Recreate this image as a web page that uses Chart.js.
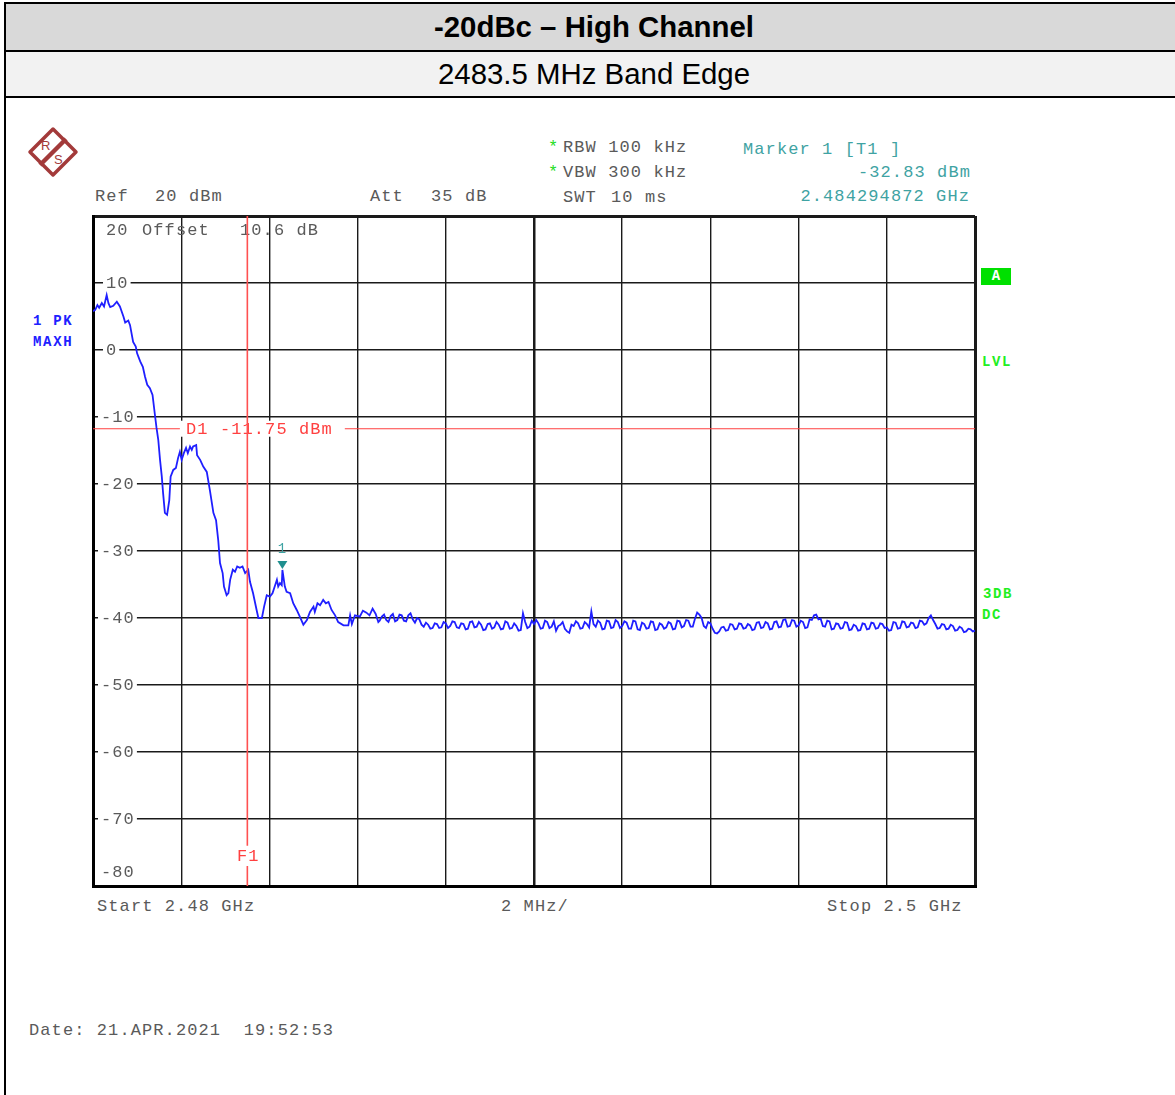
<!DOCTYPE html>
<html>
<head>
<meta charset="utf-8">
<script src="https://cdn.jsdelivr.net/npm/chart.js@4.4.0/dist/chart.umd.min.js"></script>
<style>
  body { margin: 0; background: #fff; width: 1175px; height: 1095px; overflow: hidden; position: relative; }
  .frame { position: absolute; left: 4px; top: 2px; width: 1200px; height: 1200px; border-left: 2px solid #000; border-top: 2px solid #000; }
  .row { position: absolute; left: 0; width: 1176px; text-align: center; font-family: "Liberation Sans", Arial, sans-serif; color: #000; border-bottom: 2px solid #000; border-right: 2px solid #000; }
  .row1 { top: 0; height: 46px; line-height: 46px; background: #d9d9d9; font-weight: bold; font-size: 29.4px; }
  .row2 { top: 48px; height: 44px; line-height: 44px; background: #f2f2f2; font-size: 29.4px; }
  .t { position: absolute; font-family: "Liberation Mono", monospace; font-size: 17px; line-height: 20px; letter-spacing: 1.1px; color: #5a5a5a; white-space: pre; }
  .teal { color: #3fa3a3; }
  .green { color: #22dd22; }
  .blue { color: #2020ff; font-weight: bold; font-size: 14px; letter-spacing: 1.7px; }
  .side { color: #22ee22; font-weight: bold; font-size: 14px; letter-spacing: 1.6px; }
  #wrap { position: absolute; left: 0; top: 0; width: 1175px; height: 1095px; }
</style>
</head>
<body>
<div class="frame">
  <div class="row row1">-20dBc – High Channel</div>
  <div class="row row2">2483.5 MHz Band Edge</div>
</div>

<svg style="position:absolute;left:27px;top:126px" width="52" height="52" viewBox="0 0 52 52">
  <path d="M26 3 L49 26 L26 49 L3 26 Z" fill="none" stroke="#a33a3a" stroke-width="3.5" stroke-linejoin="round"/>
  <path d="M13 39 L39 13" stroke="#a33a3a" stroke-width="4.5"/>
  <text x="14" y="24" font-family="Liberation Sans" font-size="13" fill="#a33a3a">R</text>
  <text x="27" y="38" font-family="Liberation Sans" font-size="13" fill="#a33a3a">S</text>
</svg>

<div class="t green" style="left:548px;top:138px">*</div>
<div class="t" style="left:563px;top:138px">RBW 100 kHz</div>
<div class="t green" style="left:548px;top:163px">*</div>
<div class="t" style="left:563px;top:163px">VBW 300 kHz</div>
<div class="t" style="left:563px;top:188px">SWT</div>
<div class="t" style="left:611px;top:188px">10 ms</div>
<div class="t teal" style="left:743px;top:140px">Marker 1 [T1 ]</div>
<div class="t teal" style="right:204px;top:163px">-32.83 dBm</div>
<div class="t teal" style="right:205px;top:187px">2.484294872 GHz</div>
<div class="t" style="left:95px;top:187px">Ref</div>
<div class="t" style="left:155px;top:187px">20 dBm</div>
<div class="t" style="left:370px;top:187px">Att</div>
<div class="t" style="left:431px;top:187px">35 dB</div>

<div class="t blue" style="left:33px;top:311px">1 PK</div>
<div class="t blue" style="left:33px;top:332px">MAXH</div>

<div style="position:absolute;left:981px;top:268px;width:30px;height:17px;background:#00e000;color:#fff;font:bold 14px 'Liberation Mono',monospace;text-align:center;line-height:17px">A</div>
<div class="t side" style="left:982px;top:352px">LVL</div>
<div class="t side" style="left:983px;top:584px">3DB</div>
<div class="t side" style="left:982px;top:605px">DC</div>

<div class="t" style="left:97px;top:897px">Start 2.48 GHz</div>
<div class="t" style="left:501px;top:897px">2 MHz/</div>
<div class="t" style="left:827px;top:897px">Stop 2.5 GHz</div>
<div class="t" style="left:29px;top:1021px">Date: 21.APR.2021  19:52:53</div>

<div id="wrap"><canvas id="chart" width="1175" height="1095"></canvas></div>

<script>
// sweep: 2.48 GHz .. 2.5 GHz, 2 MHz/div, ref 20 dBm, 10 dB/div
const startMHz = 2480;
const stopMHz = 2500;
const refLevel = 20;
const bottomLevel = -80;
const yTickValues = [10, 0, -10, -20, -30, -40, -50, -60, -70];

// band edge roll-off (MHz, dBm)
const edgeFreq = [
  2480.00, 2480.05, 2480.10, 2480.14, 2480.20, 2480.25, 2480.31, 2480.35, 2480.39, 2480.46,
  2480.54, 2480.61, 2480.69, 2480.73, 2480.80, 2480.84, 2480.91, 2480.97, 2481.00, 2481.07,
  2481.13, 2481.18, 2481.23, 2481.29, 2481.35, 2481.41, 2481.44, 2481.48, 2481.52, 2481.56,
  2481.59, 2481.63, 2481.68, 2481.73, 2481.76, 2481.82, 2481.88, 2481.93, 2481.97, 2482.01,
  2482.06, 2482.11, 2482.15, 2482.20, 2482.24, 2482.27, 2482.34, 2482.36, 2482.43, 2482.50,
  2482.58, 2482.65, 2482.73, 2482.79, 2482.84, 2482.88, 2482.94, 2482.97, 2483.03, 2483.07,
  2483.11, 2483.17, 2483.22, 2483.27, 2483.33, 2483.39, 2483.45, 2483.52, 2483.56, 2483.63,
  2483.71, 2483.75, 2483.83, 2483.88, 2483.94, 2484.01, 2484.07, 2484.13, 2484.17, 2484.20,
  2484.24, 2484.28, 2484.295, 2484.35, 2484.39, 2484.47, 2484.54, 2484.62, 2484.69, 2484.77,
  2484.85, 2484.92, 2485.00, 2485.03, 2485.09, 2485.15, 2485.22, 2485.28, 2485.34, 2485.41,
  2485.49, 2485.56, 2485.68, 2485.79, 2485.83, 2485.87, 2485.94, 2486.05, 2486.12, 2486.20,
  2486.27, 2486.34, 2486.41, 2486.47
];
const edgeLevel = [
  5.8, 6.0, 6.7, 6.3, 7.0, 6.5, 8.2, 7.0, 6.4, 6.6,
  7.2, 6.5, 5.0, 4.1, 4.4, 3.7, 1.2, 0.5, -0.5, -1.7,
  -2.5, -4.0, -5.2, -5.7, -6.7, -10.0, -11.6, -13.4, -16.4, -18.9,
  -21.4, -24.3, -24.6, -22.4, -18.9, -17.9, -17.6, -16.1, -15.2, -16.4,
  -15.4, -14.6, -15.4, -14.4, -14.9, -14.4, -14.2, -15.7, -16.4, -17.4,
  -18.2, -20.9, -24.3, -25.4, -28.4, -31.8, -33.3, -35.3, -36.6, -36.3,
  -34.3, -32.8, -33.1, -32.3, -32.5, -32.3, -33.3, -32.8, -34.6, -36.3,
  -38.8, -40.0, -40.0, -38.3, -36.6, -36.8, -36.3, -35.1, -34.3, -35.3,
  -34.8, -35.1, -32.83, -35.3, -36.1, -36.3, -37.8, -38.8, -39.8, -41.0,
  -40.3, -39.1, -38.3, -39.1, -37.8, -38.1, -37.3, -37.8, -37.6, -38.8,
  -39.6, -40.6, -41.1, -41.1, -39.6, -40.9, -39.6, -39.8, -38.9, -39.2,
  -39.6, -38.6, -39.4, -40.6
];

// noise floor, 0.05 MHz steps from 2486.5 MHz to 2500 MHz
const floorStart = 2486.5;
const floorStep = 0.05;
const floorLevel = [
  -40.4, -39.8, -39.5, -40.3, -40.6, -39.7, -39.4, -40.5, -40.3, -39.5,
  -39.6, -40.4, -40.5, -39.6, -39.3, -40.2, -40.7, -40.0, -40.2, -41.0,
  -41.3, -40.7, -41.0, -41.6, -41.5, -40.8, -40.9, -41.5, -41.4, -40.6,
  -40.8, -41.5, -41.2, -40.5, -40.6, -41.4, -41.5, -40.8, -40.9, -41.7,
  -41.6, -40.6, -40.5, -41.4, -41.3, -40.6, -41.0, -41.8, -41.7, -40.9,
  -40.8, -41.6, -41.4, -40.6, -41.0, -41.7, -41.6, -40.5, -40.7, -41.6,
  -41.5, -40.8, -41.2, -41.9, -41.8, -39.3, -40.6, -41.5, -41.3, -40.4,
  -40.9, -40.3, -40.8, -41.6, -41.5, -40.4, -40.6, -41.5, -41.3, -40.5,
  -41.9, -41.2, -41.0, -40.6, -41.6, -42.0, -42.2, -41.0, -41.2, -40.5,
  -40.8, -41.6, -41.5, -40.6, -40.9, -41.4, -39.0, -40.9, -41.3, -40.4,
  -40.7, -41.7, -41.6, -40.4, -40.5, -41.5, -41.4, -40.3, -40.6, -41.5,
  -41.2, -40.5, -40.7, -41.6, -41.6, -40.4, -40.5, -41.7, -41.8, -40.7,
  -40.9, -41.6, -41.5, -40.5, -40.6, -41.8, -41.7, -40.8, -41.0, -41.6,
  -41.4, -40.6, -40.8, -41.7, -41.6, -40.4, -40.5, -41.4, -41.2, -40.3,
  -40.4, -41.3, -41.3, -40.1, -39.2, -39.5, -40.0, -41.2, -41.5, -40.6,
  -40.8, -41.6, -42.2, -42.3, -42.0, -41.4, -41.3, -41.9, -41.8, -40.9,
  -41.0, -41.7, -41.6, -40.8, -40.9, -41.6, -41.5, -40.9, -41.1, -41.8,
  -41.7, -40.7, -40.6, -41.5, -41.4, -40.6, -40.8, -41.7, -41.6, -40.6,
  -40.5, -41.4, -41.3, -40.3, -40.2, -41.3, -41.2, -40.3, -40.4, -41.3,
  -41.1, -40.4, -40.6, -41.5, -41.4, -40.2, -40.3, -39.6, -39.5, -40.2,
  -40.1, -41.2, -41.3, -40.4, -40.5, -41.7, -41.6, -40.8, -40.9, -41.6,
  -41.5, -40.6, -40.7, -41.8, -41.7, -41.0, -41.2, -41.9, -41.8, -40.8,
  -40.9, -41.7, -41.6, -40.7, -40.8, -41.6, -41.5, -40.8, -40.9, -41.5,
  -41.4, -41.9, -41.8, -40.6, -40.7, -41.6, -41.5, -40.5, -40.6, -41.4,
  -41.3, -40.7, -40.8, -41.5, -41.4, -40.4, -40.5, -41.0, -40.8, -40.0,
  -39.6, -40.3, -40.9, -41.6, -41.5, -40.9, -41.0, -41.7, -41.6, -41.0,
  -41.2, -41.9, -41.8, -41.3, -41.5, -42.1, -42.0, -41.6, -41.7, -42.0,
  -41.9
];

const displayLine = -11.75;   // D1
const f1Freq = 2483.5;        // F1
const markerFreq = 2484.294872;
const markerLevel = -32.83;

const MONO = '"Liberation Mono", monospace';

const trace = edgeFreq.map((f, i) => ({ x: f, y: edgeLevel[i] }))
  .concat(floorLevel.map((v, i) => ({ x: floorStart + i * floorStep, y: v })));

// D1 line broken where its label sits
const d1Line = [
  { x: startMHz, y: displayLine }, { x: 2481.97, y: displayLine }, { x: 2483, y: null },
  { x: 2485.71, y: displayLine }, { x: stopMHz, y: displayLine }
];
// F1 line broken at its label
const f1Line = [
  { x: f1Freq, y: refLevel }, { x: f1Freq, y: -74.0 }, { x: f1Freq, y: null },
  { x: f1Freq, y: -77.0 }, { x: f1Freq, y: bottomLevel }
];

function textBox(ctx, str, x, y, color, bg) {
  const w = ctx.measureText(str).width;
  if (bg) {
    ctx.fillStyle = '#fff';
    ctx.fillRect(x - 3, y - 8, w + 5, 16);
  }
  ctx.fillStyle = color;
  ctx.fillText(str, x, y + 5);
}

const overlay = {
  id: 'overlay',
  beforeDatasetsDraw(chart) {
    const { ctx, scales: { x, y } } = chart;
    ctx.save();
    ctx.font = '17px ' + MONO;
    ctx.letterSpacing = '1.1px';
    ctx.textBaseline = 'alphabetic';
    yTickValues.forEach(v => {
      textBox(ctx, String(v), v < 0 ? 101 : 106, y.getPixelForValue(v), '#5a5a5a', true);
    });
    textBox(ctx, '20', 106, y.getPixelForValue(refLevel) + 14, '#5a5a5a', false);
    textBox(ctx, '-80', 101, y.getPixelForValue(bottomLevel) - 14, '#5a5a5a', false);
    textBox(ctx, 'Offset', 142, y.getPixelForValue(refLevel) + 14, '#5a5a5a', false);
    textBox(ctx, '10.6 dB', 240, y.getPixelForValue(refLevel) + 14, '#5a5a5a', false);
    // D1 label on white
    const dy = y.getPixelForValue(displayLine);
    const x0 = x.getPixelForValue(2481.97), x1 = x.getPixelForValue(2485.71);
    ctx.fillStyle = '#fff';
    ctx.fillRect(x0 + 1, dy - 8, x1 - x0 - 2, 16);
    ctx.fillStyle = '#ff4040';
    ctx.fillText('D1 -11.75 dBm', 186, dy + 5);
    ctx.restore();
  },
  afterDatasetsDraw(chart) {
    const { ctx, scales: { x, y } } = chart;
    ctx.save();
    ctx.font = '17px ' + MONO;
    ctx.letterSpacing = '1.1px';
    ctx.textAlign = 'center';
    ctx.fillStyle = '#ff4040';
    ctx.fillText('F1', x.getPixelForValue(f1Freq) + 1, 861);
    // marker 1
    const mx = x.getPixelForValue(markerFreq);
    const my = y.getPixelForValue(markerLevel) - 1;
    ctx.fillStyle = '#1f8f8f';
    ctx.beginPath();
    ctx.moveTo(mx - 5, my - 8);
    ctx.lineTo(mx + 5, my - 8);
    ctx.lineTo(mx, my);
    ctx.closePath();
    ctx.fill();
    ctx.fillStyle = '#3fa3a3';
    ctx.font = '14px ' + MONO;
    ctx.fillText('1', mx, my - 16);
    ctx.restore();
  }
};

new Chart(document.getElementById('chart'), {
  type: 'line',
  data: {
    datasets: [
      { data: trace, borderColor: '#1f1fff', borderWidth: 1.8, pointRadius: 0, tension: 0, order: 1 },
      { data: d1Line, borderColor: '#ff4040', borderWidth: 1.2, pointRadius: 0, spanGaps: false, order: 2 },
      { data: f1Line, borderColor: '#ff5050', borderWidth: 1.6, pointRadius: 0, spanGaps: false, order: 0 }
    ]
  },
  options: {
    responsive: false,
    animation: false,
    events: [],
    layout: { padding: { left: 93, top: 216, right: 200, bottom: 209 } },
    plugins: { legend: { display: false }, tooltip: { enabled: false } },
    scales: {
      x: {
        type: 'linear', min: startMHz, max: stopMHz,
        afterFit: s => { s.height = 0; },
        ticks: { display: false, stepSize: 2 },
        grid: {
          drawTicks: false, color: '#1a1a1a',
          lineWidth: c => (c.tick.value === startMHz || c.tick.value === stopMHz) ? 3 : (c.tick.value === 2490 ? 2.5 : 1.4)
        },
        border: { display: true, color: '#000', width: 3 }
      },
      y: {
        type: 'linear', min: bottomLevel, max: refLevel,
        afterFit: s => { s.width = 0; },
        ticks: { display: false, stepSize: 10 },
        grid: {
          drawTicks: false, color: '#1a1a1a',
          lineWidth: c => (c.tick.value === refLevel || c.tick.value === bottomLevel) ? 3 : 1.4
        },
        border: { display: true, color: '#000', width: 3 }
      }
    }
  },
  plugins: [overlay]
});
</script>
</body>
</html>
